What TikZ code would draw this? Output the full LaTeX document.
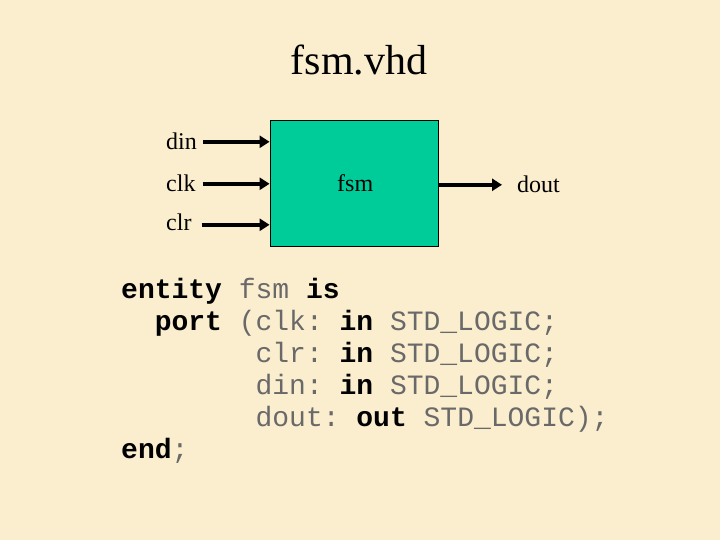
\documentclass[tikz,border=0pt]{standalone}
\usepackage{fontspec}
\setmainfont{Liberation Serif}
\setmonofont{Liberation Mono}
\usetikzlibrary{arrows.meta}
\definecolor{paper}{RGB}{251,238,206}
\definecolor{fsmgreen}{RGB}{0,204,153}
\definecolor{codegray}{RGB}{105,105,105}
\newcommand{\kw}[1]{\textbf{\color{black}#1}}
\tikzset{
  label/.style={font=\fontsize{24}{28}\selectfont, inner sep=0pt, anchor=base west},
  port/.style={line width=4pt, -{Triangle[length=10pt,width=12pt]}},
  code/.style={font=\ttfamily\fontsize{28}{32}\selectfont, text=codegray, inner sep=0pt, anchor=base west}
}
\begin{document}
\begin{tikzpicture}[x=1pt, y=-1pt]
  \fill[paper] (0,0) rectangle (720,540);
  \useasboundingbox (0,0) rectangle (720,540);
  \node[font=\fontsize{42}{48}\selectfont, inner sep=0pt, anchor=base] (title) at (359,75) {fsm.vhd};

  % the block and its ports
  \node[draw=black, line width=0.8pt, fill=fsmgreen, minimum width=168pt, minimum height=126pt,
        inner sep=0pt] (fsm) at (354,183) {};
  \node[label] (name) at (337,192) {fsm};
  \node[label] (din) at (166,150) {din};
  \node[label] (clk) at (166,192) {clk};
  \node[label] (clr) at (166,230) {clr};
  \node[label] (dout) at (517,193) {dout};
  \draw[port] ([xshift=6pt]din.east) -- (din.east -| fsm.west);
  \draw[port] ([xshift=7pt]clk.east) -- (clk.east -| fsm.west);
  \draw[port] ([xshift=10pt,yshift=-3pt]clr.east) -- ([yshift=-3pt]clr.east -| fsm.west);
  \draw[port] (fsm.east |- dout.west) -- ([xshift=-15pt]dout.west);

  % the entity declaration
  \node[code] (line1) at (121,298) {\kw{entity} fsm \kw{is}};
  \node[code] (line2) at (121,330) {~~\kw{port} (clk: \kw{in} STD\_LOGIC;};
  \node[code] (line3) at (121,362) {~~~~~~~~clr: \kw{in} STD\_LOGIC;};
  \node[code] (line4) at (121,394) {~~~~~~~~din: \kw{in} STD\_LOGIC;};
  \node[code] (line5) at (121,426) {~~~~~~~~dout: \kw{out} STD\_LOGIC);};
  \node[code] (line6) at (121,458) {\kw{end};};
\end{tikzpicture}
\end{document}
